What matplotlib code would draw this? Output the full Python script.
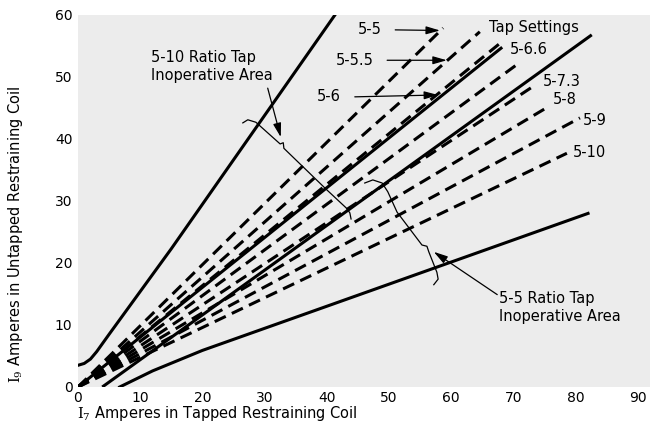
import numpy as np
import matplotlib.pyplot as plt

plt.rcParams['font.family'] = ['DejaVu Sans']
plt.rcParams['mathtext.fontset'] = 'dejavuserif'

# dashed tap setting lines, all from the origin to these end points
tap_names = ['5-5', '5-5.5', '5-6', '5-6.6', '5-7.3', '5-8', '5-9', '5-10']
tap_x_end = [58.7, 64.6, 67.8, 71.1, 73.5, 75.6, 80.7, 78.6]
tap_y_end = [57.9, 57.3, 55.4, 52.4, 48.7, 45.2, 43.4, 37.7]

# the two solid lines in the fan
solid_x = [[0, 68.2], [3.9, 82.6]]
solid_y = [[0, 54.8], [0, 56.8]]

# boundaries of the inoperative areas
upper_x = [0, 1, 2, 3, 5, 15, 42.0]
upper_y = [3.5, 3.8, 4.5, 5.7, 8.5, 22.3, 61.0]
lower_x = [6.7, 12, 20, 40.5, 82]
lower_y = [0, 2.6, 5.9, 13.2, 28]

# tap labels
label_text = ['Tap Settings', '5-6.6', '5-7.3', '5-8', '5-9', '5-10']
label_x = [66.0, 69.4, 74.7, 76.3, 81.1, 79.5]
label_y = [58.0, 54.4, 49.2, 46.3, 43.0, 37.9]

# labels with arrows
arrow_text = ['5-5', '5-5.5', '5-6']
arrow_text_x = [45.0, 41.4, 38.4]
arrow_text_y = [57.6, 52.7, 46.8]
arrow_tail = [(51.0, 57.6), (49.7, 52.7), (44.5, 46.8)]
arrow_tip = [(58.2, 57.5), (59.3, 52.7), (57.9, 47.1)]

# braces marking the inoperative areas
brace10_x = [26.5, 27.3, 28.6, 32.5, 33.0, 33.1, 40.0, 43.1, 43.7, 43.9]
brace10_y = [42.6, 43.1, 42.7, 39.2, 39.4, 38.5, 31.8, 28.9, 28.1, 27.1]
brace5_x = [46.1, 47.4, 48.9, 49.8, 51.3, 55.3, 56.1, 56.4, 57.7, 57.9, 57.2]
brace5_y = [32.9, 33.4, 32.9, 31.5, 28.2, 22.9, 22.7, 21.8, 18.5, 17.4, 16.5]

xticks = [0, 10, 20, 30, 40, 50, 60, 70, 80, 90]
yticks = [0, 10, 20, 30, 40, 50, 60]

fig = plt.figure(figsize=(6.51, 4.30), dpi=100)
ax = fig.add_axes([78 / 651, 43 / 430, 572 / 651, 372 / 430])
ax.set_facecolor('#ececec')
ax.set_xlim(0, 572 / 6.22)
ax.set_ylim(0, 60)
for s in ax.spines.values():
    s.set_visible(False)

lw = 2.2
for xe, ye in zip(tap_x_end, tap_y_end):
    ax.plot([0, xe], [0, ye], color='k', lw=lw, linestyle=(0, (4, 2.2)))
for xs, ys in zip(solid_x, solid_y):
    ax.plot(xs, ys, color='k', lw=lw, solid_capstyle='butt')
ax.plot(upper_x, upper_y, color='k', lw=lw)
ax.plot(lower_x, lower_y, color='k', lw=lw)

ax.plot(brace10_x, brace10_y, color='k', lw=0.9)
ax.plot(brace5_x, brace5_y, color='k', lw=0.9)

aprops = dict(arrowstyle='-|>,head_length=0.7,head_width=0.2', color='k',
              lw=0.9, mutation_scale=12, shrinkA=0, shrinkB=0)
for t, tx, ty, tail, tip in zip(arrow_text, arrow_text_x, arrow_text_y, arrow_tail, arrow_tip):
    ax.text(tx, ty, t, fontsize=10.5, ha='left', va='center')
    ax.annotate('', xy=tip, xytext=tail, arrowprops=aprops)

for t, tx, ty in zip(label_text, label_x, label_y):
    ax.text(tx, ty, t, fontsize=10.5, ha='left', va='center')

ax.text(11.8, 51.7, '5-10 Ratio Tap\nInoperative Area', fontsize=10.5,
        ha='left', va='center', linespacing=1.25)
ax.annotate('', xy=(32.6, 40.3), xytext=(30.5, 48.2), arrowprops=aprops)
ax.text(67.7, 12.8, '5-5 Ratio Tap\nInoperative Area', fontsize=10.5,
        ha='left', va='center', linespacing=1.25)
ax.annotate('', xy=(57.2, 21.8), xytext=(67.4, 14.9), arrowprops=aprops)

ax.set_xticks(xticks)
ax.set_yticks(yticks)
ax.tick_params(length=0, labelsize=10)
ax.tick_params(axis='x', pad=3)
ax.tick_params(axis='y', pad=4)

ax.set_xlabel(r'$\mathrm{I}_7$ Amperes in Tapped Restraining Coil', fontsize=10.5)
ax.xaxis.label.set_ha('left')
ax.xaxis.set_label_coords(-0.002, -0.045)
ax.set_ylabel(r'$\mathrm{I}_9$ Amperes in Untapped Restraining Coil', fontsize=10.5)
ax.yaxis.label.set_va('center')
ax.yaxis.set_label_coords(-0.11, 0.41)

fig.savefig('out.png', dpi=100)
